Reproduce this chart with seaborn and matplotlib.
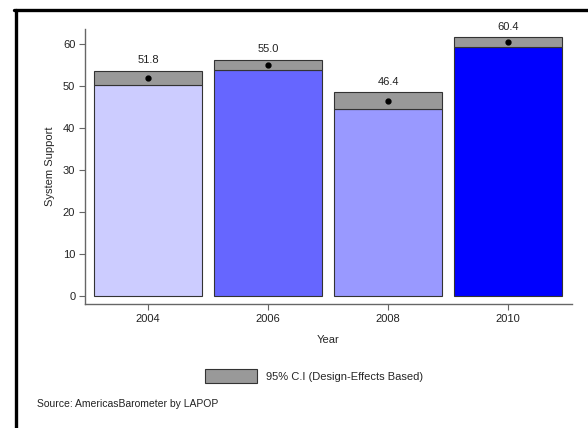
import matplotlib
matplotlib.use("Agg")
import matplotlib.pyplot as plt
from matplotlib.lines import Line2D
from matplotlib.patches import Patch
import numpy as np
import pandas as pd
import seaborn as sns

years = ["2004", "2006", "2008", "2010"]
support = [51.8, 55.0, 46.4, 60.4]
ci_low = [50.1, 53.8, 44.4, 59.3]
ci_high = [53.6, 56.2, 48.4, 61.5]
bar_colors = ["#CCCCFF", "#6666FF", "#9999FF", "#0000FF"]
ci_color = "#999999"

sns.set_theme(style="white")
plt.rcParams["font.family"] = ["Liberation Sans", "DejaVu Sans"]

df = pd.DataFrame({"Year": years, "Support": support,
                   "Low": ci_low, "High": ci_high})

fig = plt.figure(figsize=(5.88, 4.28), dpi=100)
ax = fig.add_axes([85 / 588, 1 - 304 / 428, (572 - 85) / 588, (304 - 29) / 428])

# bars drawn up to the lower confidence bound
sns.barplot(data=df, x="Year", y="Low", hue="Year", palette=bar_colors,
            saturation=1, width=0.9, edgecolor="#333333", linewidth=0.8,
            legend=False, ax=ax, zorder=2)

# confidence-interval band on top of each bar
x = np.arange(len(years))
ax.bar(x, df["High"] - df["Low"], bottom=df["Low"], width=0.9,
       color=ci_color, edgecolor="#333333", linewidth=0.8, zorder=2)

# point estimate markers and labels
ax.plot(x, df["Support"], "o", color="black", markersize=3.5, zorder=3)
for xi, val, hi in zip(x, df["Support"], df["High"]):
    ax.text(xi, hi + 1.3, f"{val:.1f}", ha="center", va="bottom",
            fontsize=8, color="#222222")

ax.set_xlim(-0.525, 3.533)
ax.set_ylim(-2, 63.5)
ax.set_yticks([0, 10, 20, 30, 40, 50, 60])
ax.set_xlabel("Year", fontsize=8, labelpad=8)
ax.set_ylabel("System Support", fontsize=8, labelpad=6)

for side in ["top", "right"]:
    ax.spines[side].set_visible(False)
for side in ["left", "bottom"]:
    ax.spines[side].set_color("#666666")
    ax.spines[side].set_linewidth(1.0)
ax.tick_params(axis="both", which="major", length=4, width=0.8,
               color="#666666", labelsize=8, labelcolor="#222222",
               direction="out", bottom=True, left=True, pad=3)

# legend for the CI band
handle = Patch(facecolor=ci_color, edgecolor="#333333", linewidth=0.8,
               label="95% C.I (Design-Effects Based)")
fig.legend(handles=[handle], loc="center", bbox_to_anchor=(314 / 588, 1 - 376 / 428),
           frameon=False, fontsize=8, handlelength=4.7, handleheight=1.5,
           handletextpad=0.8)

fig.text(37 / 588, 1 - 404 / 428, "Source: AmericasBarometer by LAPOP",
         fontsize=7.5, color="#222222", va="center", ha="left")

# frame lines on the left and top of the figure
fig.add_artist(Line2D([15.5 / 588, 15.5 / 588], [0, 1 - 9.5 / 428],
                      color="black", linewidth=2.4, transform=fig.transFigure))
fig.add_artist(Line2D([14.3 / 588, 1], [1 - 9.5 / 428, 1 - 9.5 / 428],
                      color="black", linewidth=2.4, transform=fig.transFigure))

fig.savefig("out.png", dpi=100, facecolor="white")
